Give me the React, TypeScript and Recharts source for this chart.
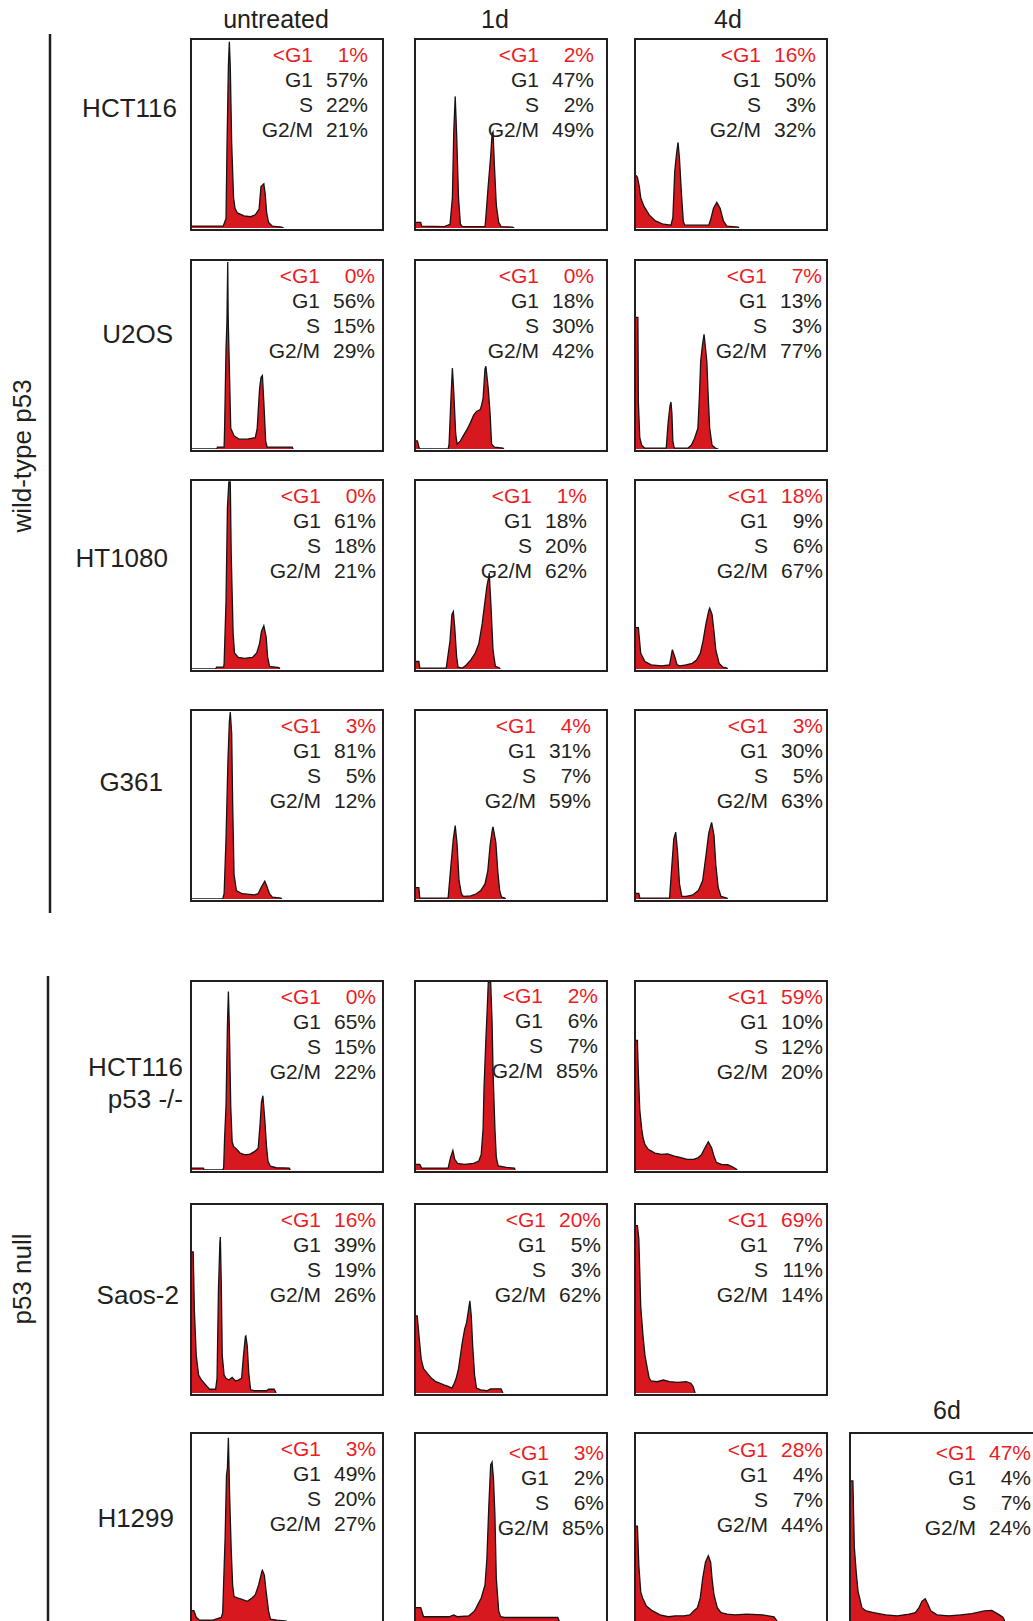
import React from "react";
import { Area, AreaChart, XAxis, YAxis } from "recharts";

const FILL = "#d7191f";
const RED_TEXT = "#ec1c24";
const INK = "#231f20";
const FONT = '"Liberation Sans", Arial, Helvetica, sans-serif';

// panel grid (page px)
const COLS = [190, 414, 634, 849];
const ROWS = [38, 259, 479, 709, 980, 1203, 1432];
const BOX_W = 194;
const BOX_H = 193;
const BORDER = 2.5;

const phases = ["<G1", "G1", "S", "G2/M"];

// DNA content histograms: [channel 0-200, relative count 0-100]
const hct116Untreated = [[0,1],[33,1],[36,5],[37,42],[38.5,86],[39.5,99],[40.5,86],[42,45],[44,16],[45.5,10.5],[48,8],[55,6.5],[62,6],[67,7],[71,10],[73,22],[76,23.5],[77.5,18],[79,8],[81,3],[85,1],[95,0.5],[97,0]];
const hct116D1 = [[0,3],[5,3],[6,1],[30,0.7],[36,2],[38.5,16],[40,52],[41.5,70],[43,50],[45,16],[47,2],[49,0.7],[73,0.7],[73.5,3],[76.5,23],[79,38],[80.5,50],[81.5,51],[83,33],[85,12],[87.5,3],[90,0.7],[102,0.5],[104,0]];
const hct116D4 = [[0,28],[1.5,27],[3.5,22],[5,16],[8.5,11.5],[14,7],[20.5,3.8],[29,2],[37,1.5],[39,5.5],[41,30],[43,40],[44.5,45.5],[46,37],[48,19],[50,3.8],[51.5,1.5],[77,1.5],[79,4.5],[82,10.5],[85.5,13.6],[89,10.5],[92.5,3.8],[96,1],[108,0.5],[109,0]];

const u2osUntreated = [[0,0],[26,0],[27,1],[34,1],[34.5,11],[36,53],[37,68],[37.8,99.5],[38.3,70],[39.5,44],[41,11],[44.5,7],[50,5.2],[58.5,5.2],[67,6],[69,11],[71.5,32],[73,38],[74.5,39],[76,25],[78,4],[79.5,1],[106,1],[107,0]];
const u2osD1 = [[0,4.3],[1.5,4.3],[3,1],[4,0],[34,0],[35,2.6],[37,27],[38.5,43],[40,30],[42,8],[43.5,2.6],[47,4.3],[50,7],[54,10.4],[57.5,13.9],[61,18],[64,20],[68,21],[69.5,23.5],[71,27],[73,42.6],[74,44],[75,39],[76.5,32],[78.5,18],[80,2.6],[83,1],[92,0.5],[93,0]];
const u2osD4 = [[0,70],[2,70],[2.5,25],[4,6],[6,2],[9,0.5],[32,0.5],[34,14],[36,23],[37,25],[38,19],[39,4],[40.5,0.5],[55,0.5],[58.5,2],[62,5.7],[65.5,11],[67,27],[68.5,47],[70.5,56],[72,61],[73.5,54],[75,46],[76.5,27],[78,11],[80.5,2],[84,0.5],[87,0]];

const ht1080Untreated = [[0,0],[25,0],[26,1],[33.5,1],[34,3],[36,36],[37.5,86],[39,99.5],[40.5,99.5],[41.5,61],[43.5,19],[45,8.5],[49,6.2],[55.5,5.7],[64,6.2],[68.5,8.5],[71.5,13.5],[73.5,20],[76,23],[78.5,17],[80,6.5],[82,1.4],[92,0.8],[93,0]];
const ht1080D1 = [[0,4],[3,4],[4,0.5],[32,0.5],[36,15],[38,29],[39.5,30.5],[41,22],[43,6.5],[44.5,1],[49,0.5],[53,2],[58,4.8],[62.5,8.3],[66.5,13.4],[70,24],[73,36],[75,44],[77,49],[77.5,51],[79.5,32],[81.5,10],[84,1.4],[88,0.7],[89,0]];
const ht1080D4 = [[0,22],[2.5,22],[5,8.3],[9.5,4],[16,2.2],[27,1.7],[35.5,2.2],[36.5,4.8],[38.5,10.3],[41,6.5],[43.5,2.2],[46.5,1.7],[53,2.2],[59.5,3],[64,4.8],[68,8.3],[71,15],[74,24],[77,31],[78,32.4],[80.5,29],[82.5,20],[84.5,10],[88,3],[92,1],[96,0.5],[97,0]];

const g361Untreated = [[0,0],[32.5,0],[34,2.8],[36,32],[38,73],[39.5,94],[40.5,99.5],[42,88],[43,52],[44.5,13],[47,4.5],[53,2.8],[66,2.2],[70,2.8],[73,6],[76,8.6],[77,9.5],[79,7],[82,2.8],[85,1],[94,0.5],[95,0]];
const g361D1 = [[0,6],[3,6],[4,0.5],[34,0.5],[37,18],[39.5,32],[41.5,39],[43.5,29],[45.5,10],[48,2.8],[50,1.4],[58,1.7],[64,2.8],[68.5,4.5],[73,8],[76,15],[78.5,29],[81,37.5],[81.5,38.4],[84.5,30],[86.5,15],[88.5,4.5],[90.5,1],[94,0.5],[95,0]];
const g361D4 = [[0,3],[3,3],[4,0.5],[35.5,0.5],[38,18],[40,32],[42,35.6],[44,25],[46,8],[48.5,1.4],[53,1.4],[59.5,2],[66,4.5],[70.5,9.7],[74,23],[77,35],[80,40.8],[82.5,34],[84.5,18],[87,6],[90,1.4],[96,0.5],[97,0]];

const nullHct116Untreated = [[0,1],[12,1],[13,0],[32.5,0],[33.5,1.2],[34.5,17],[36,34],[37.5,77],[38.5,95],[39.5,77],[41,34],[42.5,15],[44,12.5],[47.5,10.9],[51,9],[56,8.1],[61.5,8.5],[66.5,9.9],[70,11.6],[72,24],[73.5,36],[75,39.5],[77,27],[79,11.6],[80.5,4.5],[83,2],[89,1.2],[103,1],[104,0]];
const nullHct116D1 = [[0,3],[4,3],[6,1],[34,1],[36.5,6.6],[39,10.4],[41,5.7],[44,3.5],[51,3],[61,3.5],[66.5,4.8],[69,8.3],[71,22],[72,44],[74,70],[75.5,87],[76.5,100],[79,100],[80.5,79],[81.5,53],[83.5,22],[85,6.6],[87,2.2],[95.5,1.4],[104,1],[105,0]];
const nullHct116D4 = [[0,69],[1.5,69],[2.5,51],[4,32],[6,22],[7.5,17],[9.5,13.5],[13,11],[20,9],[27,8.3],[33.5,8.6],[40.5,7.4],[47.5,6.6],[54,5.7],[61,5.7],[66,6.6],[69.5,8.3],[73,11.8],[76.5,15],[80,11.8],[82.5,7.4],[85,4],[90.5,3],[97,2.8],[102,1.7],[106,0.5],[107,0]];

const saos2Untreated = [[0,75],[1.3,75],[2.5,44],[4.5,20],[7,9.5],[10,7],[14.5,4.3],[18.5,2],[25,2],[26.5,7.8],[28,55],[29.5,80],[30,83],[31,58],[32,20],[34,9.5],[36,7.8],[39,6.9],[42.5,8.3],[46,6.4],[49,6.9],[52.5,7.8],[54.5,20],[56.5,30],[57,30.3],[58.5,25],[60,11],[62,1.7],[66,1.2],[79,1.2],[81,2],[87,2],[89,0]];
const saos2D1 = [[0,41],[1.3,41],[3.5,28.6],[5.5,18],[8,13],[12,10.4],[16.5,7.8],[21,6],[25,5.2],[29.5,4.3],[34,3.5],[38,2.6],[40.5,5.2],[42.5,7.8],[45,13],[47,20],[49,27],[51.5,34],[53.5,37.4],[55.5,44],[57,49],[58.5,41],[60,25],[62,9.5],[64,2.6],[68.5,1.7],[75,1.2],[79,2.2],[90,2.2],[92,0]];
const saos2D4 = [[0,89],[1.5,89],[3,82],[5,46],[7.5,30],[9.5,20],[12,13],[14,7.8],[16,6.4],[22.5,6],[29,6.9],[35.5,6],[44,5.7],[53,6],[58,5.2],[60.5,3.5],[62.5,0]];

const h1299Untreated = [[0,6],[2,6],[4.5,2.5],[8,1],[22,1],[31,2.4],[32.5,5],[33.5,21],[35,44],[36.5,78],[37.5,82],[38.5,98],[40,64],[41.5,38.5],[43,19.7],[44.5,13.5],[48,12.8],[53,12],[58.5,11],[63.5,12.8],[67,14.5],[70.5,19.7],[74,27],[74.5,27.5],[76.5,25],[78.5,16],[81,5.9],[83,1.5],[90,1],[100,0.5],[101,0]];
const h1299D1 = [[0,7.6],[5,7.6],[8,2.8],[35,2.8],[40,3.8],[44,2.8],[56,3.3],[62,5.9],[69,12.8],[73,19.7],[75,33.5],[77,61],[79,83.5],[80.5,85],[82,76],[83.5,57],[85,23],[87.5,5.9],[89.5,2.8],[94,2.4],[120,2.4],[150,2.4],[152,0]];
const h1299D4 = [[0,51],[1.5,51],[3,30],[5,16],[7,12.8],[11,8.5],[17.5,5.9],[25.5,3.8],[34,2.8],[42,3.3],[50.5,3.3],[57,3.8],[61,5.9],[65,7.6],[68,12.8],[70.5,23],[73.5,31.8],[76.5,35.2],[79,31.8],[80.5,23],[82.5,14.5],[86,7.6],[90,5],[96.5,4.2],[105,3.8],[117,4.2],[134,3.8],[146,2.8],[150,0]];
const h1299D6 = [[0,75],[2,75],[3.5,40],[5.5,26.6],[7.5,16.2],[9.5,12],[11.5,7.6],[16,5.9],[24,5],[36.5,3.8],[49,3.3],[61.5,4.2],[68,5],[72,7.6],[75,11],[78.5,12.4],[81.5,9.3],[84.5,5.9],[91,3.8],[103.5,3.3],[116,3.8],[128,4.5],[141,5.9],[149,6.2],[157,3.8],[161,2.4],[163,0]];

// percentages per phase (<G1, G1, S, G2/M)
const pctHct116 = [[1,57,22,21],[2,47,2,49],[16,50,3,32]];
const pctU2os = [[0,56,15,29],[0,18,30,42],[7,13,3,77]];
const pctHt1080 = [[0,61,18,21],[1,18,20,62],[18,9,6,67]];
const pctG361 = [[3,81,5,12],[4,31,7,59],[3,30,5,63]];
const pctNullHct116 = [[0,65,15,22],[2,6,7,85],[59,10,12,20]];
const pctSaos2 = [[16,39,19,26],[20,5,3,62],[69,7,11,14]];
const pctH1299 = [[3,49,20,27],[3,2,6,85],[28,4,7,44],[47,4,7,24]];

const rowHists = [
  [hct116Untreated, hct116D1, hct116D4],
  [u2osUntreated, u2osD1, u2osD4],
  [ht1080Untreated, ht1080D1, ht1080D4],
  [g361Untreated, g361D1, g361D4],
  [nullHct116Untreated, nullHct116D1, nullHct116D4],
  [saos2Untreated, saos2D1, saos2D4],
  [h1299Untreated, h1299D1, h1299D4, h1299D6],
];
const rowPcts = [pctHct116, pctU2os, pctHt1080, pctG361, pctNullHct116, pctSaos2, pctH1299];

// layout: distance of the percent column from the box's right edge, and text drop
const TEXT_INSET = [[16,14,12],[9,14,6],[8,21,5],[8,17,5],[8,10,5],[8,7,5],[8,4,5,12]];
const TEXT_DROP = [[0,0,0],[0,0,0],[0,0,0],[0,0,0],[0,-1,0],[0,0,0],[0,4,1,4]];

const rowLabels = [
  { lines: ["HCT116"], x: 177, y: 117 },
  { lines: ["U2OS"], x: 173, y: 343 },
  { lines: ["HT1080"], x: 168, y: 567 },
  { lines: ["G361"], x: 163, y: 791 },
  { lines: ["HCT116", "p53 -/-"], x: 183, y: 1076 },
  { lines: ["Saos-2"], x: 179, y: 1304 },
  { lines: ["H1299"], x: 174, y: 1527 },
];
const headers = [
  { text: "untreated", x: 276, y: 28 },
  { text: "1d", x: 495, y: 28 },
  { text: "4d", x: 728, y: 28 },
  { text: "6d", x: 947, y: 1419 },
];

function Histogram({ hist }: { hist: number[][] }) {
  const data = hist.map(([x, y]) => ({ x, y }));
  return (
    <AreaChart
      width={BOX_W - 2 * BORDER}
      height={BOX_H - 2 * BORDER}
      data={data}
      margin={{ top: 0, right: 0, bottom: 0, left: 0 }}
    >
      <XAxis type="number" dataKey="x" domain={[0, 200]} hide allowDataOverflow />
      <YAxis type="number" domain={[0, 100]} hide allowDataOverflow />
      <Area
        type="linear"
        dataKey="y"
        stroke="#141414"
        strokeWidth={1.3}
        fill={FILL}
        fillOpacity={1}
        dot={false}
        activeDot={false}
        isAnimationActive={false}
      />
    </AreaChart>
  );
}

export default function App() {
  const boxes: React.ReactNode[] = [];
  const texts: React.ReactNode[] = [];
  rowHists.forEach((hists, r) => {
    hists.forEach((hist, c) => {
      const left = COLS[c];
      const top = ROWS[r];
      boxes.push(
        <div
          key={`b${r}-${c}`}
          style={{
            position: "absolute",
            left,
            top,
            width: BOX_W,
            height: BOX_H,
            border: `${BORDER}px solid ${INK}`,
            boxSizing: "border-box",
            background: "#fff",
            overflow: "hidden",
          }}
        >
          <Histogram hist={hist} />
        </div>
      );
      const valRight = left + BOX_W - TEXT_INSET[r][c];
      const base = top + 24 + TEXT_DROP[r][c];
      rowPcts[r][c].forEach((v, i) => {
        const color = i === 0 ? RED_TEXT : INK;
        const y = base + i * 25;
        texts.push(
          <text key={`l${r}-${c}-${i}`} x={valRight - 55} y={y} textAnchor="end" fill={color} fontSize={21}>
            {phases[i]}
          </text>,
          <text key={`v${r}-${c}-${i}`} x={valRight} y={y} textAnchor="end" fill={color} fontSize={21}>
            {`${v}%`}
          </text>
        );
      });
    });
  });

  return (
    <div
      style={{
        position: "absolute",
        left: 0,
        top: 0,
        width: 1033,
        height: 1621,
        overflow: "hidden",
        background: "#fff",
        fontFamily: FONT,
      }}
    >
      {boxes}
      <svg
        width={1033}
        height={1621}
        style={{ position: "absolute", left: 0, top: 0, pointerEvents: "none" }}
        fontFamily={FONT}
      >
        {headers.map((h) => (
          <text key={h.text} x={h.x} y={h.y} textAnchor="middle" fontSize={25} fill={INK}>
            {h.text}
          </text>
        ))}
        {rowLabels.map((l, i) =>
          l.lines.map((line, j) => (
            <text key={`r${i}-${j}`} x={l.x} y={l.y + j * 32} textAnchor="end" fontSize={26} fill={INK}>
              {line}
            </text>
          ))
        )}
        <line x1={50} y1={34} x2={50} y2={913} stroke={INK} strokeWidth={2.5} />
        <line x1={48} y1={976} x2={48} y2={1621} stroke={INK} strokeWidth={2.5} />
        <text x={31} y={456} textAnchor="middle" fontSize={26} fill={INK} transform="rotate(-90 31 456)">
          wild-type p53
        </text>
        <text x={31} y={1279} textAnchor="middle" fontSize={26} fill={INK} transform="rotate(-90 31 1279)">
          p53 null
        </text>
        {texts}
      </svg>
    </div>
  );
}
